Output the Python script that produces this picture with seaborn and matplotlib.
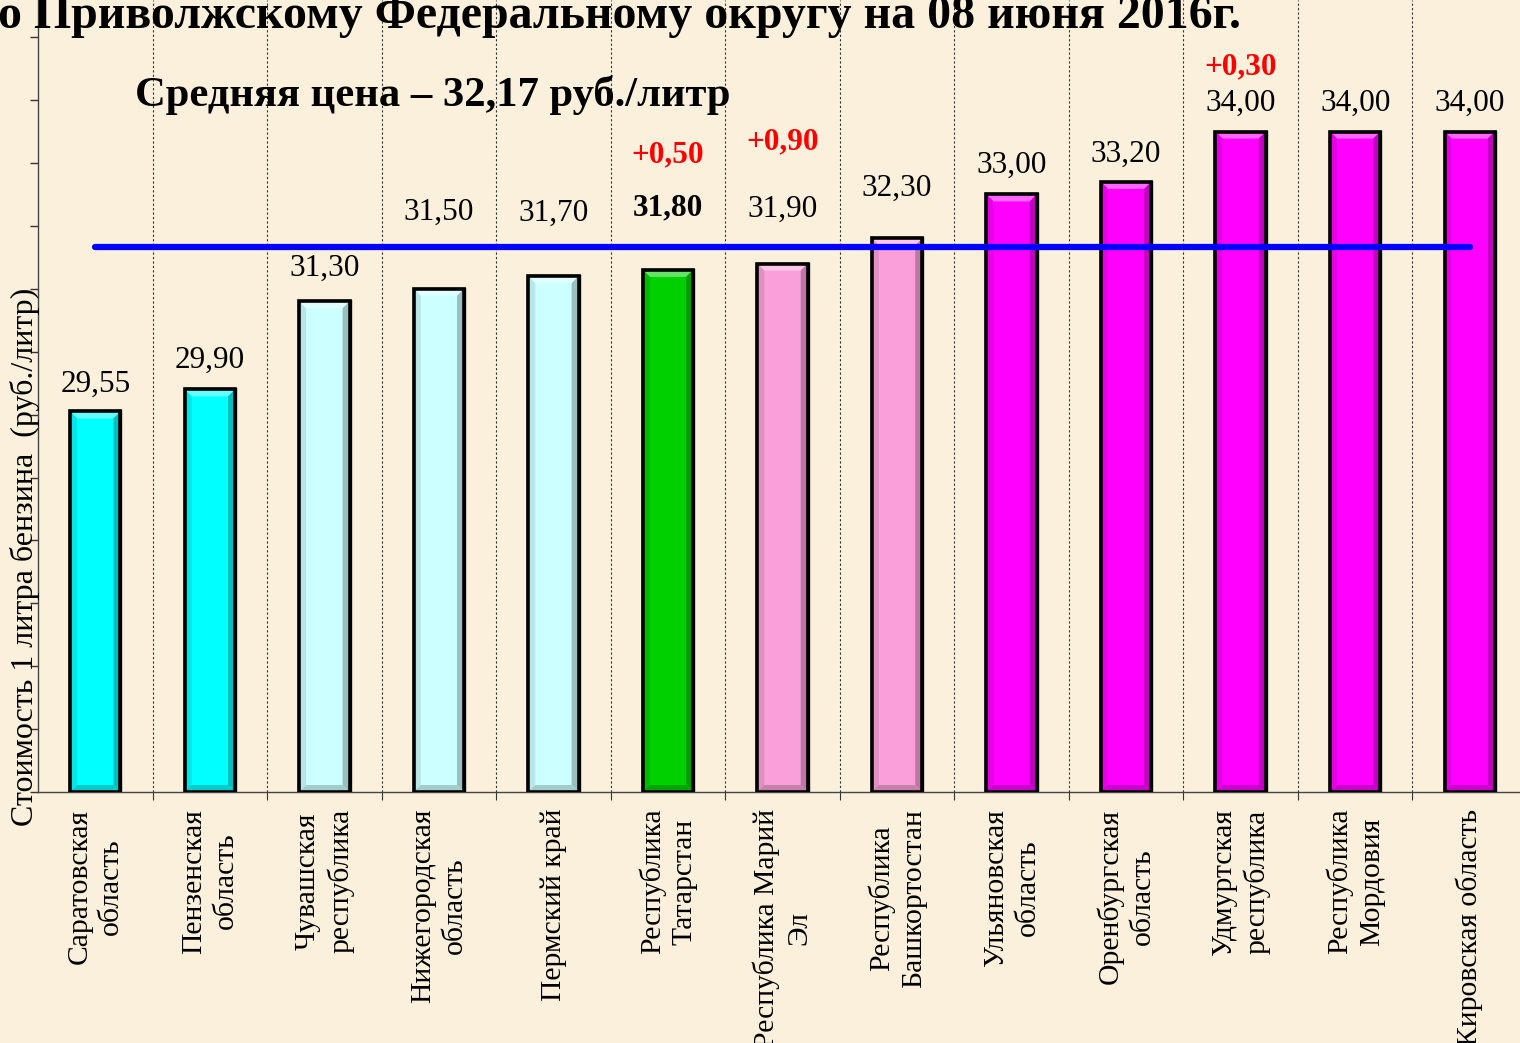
import numpy as np
import pandas as pd
import matplotlib.pyplot as plt
import matplotlib.colors as mcolors
from matplotlib.patches import Polygon
import seaborn as sns

regions = ["Саратовская\nобласть", "Пензенская\nобласть", "Чувашская\nреспублика",
           "Нижегородская\nобласть", "Пермский край", "Республика\nТатарстан",
           "Республика Марий\nЭл", "Республика\nБашкортостан", "Ульяновская\nобласть",
           "Оренбургская\nобласть", "Удмуртская\nреспублика", "Республика\nМордовия",
           "Кировская область"]
prices = [29.55, 29.90, 31.30, 31.50, 31.70, 31.80, 31.90, 32.30,
          33.00, 33.20, 34.00, 34.00, 34.00]
bar_colors = ["#00FFFF", "#00FFFF", "#CCFFFF", "#CCFFFF", "#CCFFFF", "#00D000",
              "#F9A0D8", "#F9A0D8", "#FF00FF", "#FF00FF", "#FF00FF", "#FF00FF", "#FF00FF"]
changes = {5: "+0,50", 6: "+0,90", 10: "+0,30"}
avg_price = 32.17

# label lift above bar top, pixels (labels moved clear of the average line)
value_lift = [27, 29, 33, 76, 63, 62, 54, 50, 29, 28, 28, 28, 28]
change_lift = {5: 115, 6: 122, 10: 65}

df = pd.DataFrame({"region": regions, "price": prices})

sns.set_style("white")
plt.rcParams["font.family"] = ["Liberation Serif", "DejaVu Serif"]
plt.rcParams["text.color"] = "black"
plt.rcParams["xtick.color"] = "#333333"
plt.rcParams["ytick.color"] = "#333333"

bg = "#FAF0DC"
fig = plt.figure(figsize=(15.2, 10.43), dpi=100, facecolor=bg)
ax = fig.add_axes([38 / 1520, 1 - 792 / 1043, 1489 / 1520, 792 / 1043])
ax.set_facecolor("none")

ymin = 23.5
ymax = ymin + 792 / 62.9

sns.barplot(data=df, x="region", y="price", hue="region", palette=bar_colors,
            saturation=1, legend=False, width=0.44, edgecolor="black", linewidth=2.4,
            ax=ax, zorder=3)

# bevel effect on each bar
bx, by = 7 / 114.5, 7 / 62.9
for p, c in zip(ax.patches, bar_colors):
    x0, w, top = p.get_x(), p.get_width(), p.get_height()
    x1 = x0 + w
    rgb = np.array(mcolors.to_rgb(c))
    polys = [
        ([(x0, top), (x1, top), (x1 - bx, top - by), (x0 + bx, top - by)], rgb + (1 - rgb) * 0.4),
        ([(x0, top), (x0 + bx, top - by), (x0 + bx, ymin + by), (x0, ymin)], rgb * 0.9),
        ([(x1, top), (x1 - bx, top - by), (x1 - bx, ymin + by), (x1, ymin)], rgb * 0.75),
        ([(x0, ymin), (x0 + bx, ymin + by), (x1 - bx, ymin + by), (x1, ymin)], rgb * 0.8),
    ]
    for pts, col in polys:
        ax.add_patch(Polygon(pts, closed=True, facecolor=col, edgecolor="none", zorder=3.5))
    ax.add_patch(plt.Rectangle((x0, ymin), w, top - ymin, facecolor="none",
                               edgecolor="black", linewidth=2.6, zorder=3.6))

# average line
ax.hlines(avg_price, 0, len(regions) - 1, color="#0000FF", linewidth=4.5,
          capstyle="round", zorder=5)

# value labels
for i, v in enumerate(prices):
    bold = i == 5
    ax.annotate(f"{v:.2f}".replace(".", ","), (i, v), xytext=(0, value_lift[i]),
                textcoords="offset pixels", ha="center", va="center",
                fontsize=22.5, fontweight="bold" if bold else "normal", color="black", zorder=6)
for i, t in changes.items():
    ax.annotate(t, (i, prices[i]), xytext=(0, change_lift[i]),
                textcoords="offset pixels", ha="center", va="center",
                fontsize=22.5, fontweight="bold", color="#FF0000", zorder=6)

ax.set_xlim(-0.5, len(regions) - 0.5)
ax.set_ylim(ymin, ymax)
ax.set_yticks(np.arange(ymin, ymax, 1.0))
ax.set_yticklabels([])
ax.tick_params(axis="y", direction="out", length=6, width=1, left=True)
ax.set_xticks(range(len(regions)))
ax.set_xticklabels(regions, rotation=90, fontsize=21.3, ha="center", va="top",
                   linespacing=1.3, color="black")
ax.tick_params(axis="x", which="major", length=0, pad=12)
ax.set_xticks(np.arange(0.5, len(regions) - 0.5, 1.0), minor=True)
ax.tick_params(axis="x", which="minor", direction="out", length=6, width=0.8, bottom=True)
ax.grid(which="minor", axis="x", linestyle=(0, (2, 2)), color="#333333", linewidth=0.8, zorder=1)
ax.grid(which="major", visible=False)
ax.set_xlabel("")
ax.set_ylabel("")
for s in ["top", "right"]:
    ax.spines[s].set_visible(False)
for s in ["left", "bottom"]:
    ax.spines[s].set_color("#444444")
    ax.spines[s].set_linewidth(1.0)

fig.text(25 / 1520, 1 - 557 / 1043, "Стоимость 1 литра бензина  (руб./литр)",
         rotation=90, ha="center", va="center", fontsize=23)
fig.text(135 / 1520, 1 - 106 / 1043, "Средняя цена – 32,17 руб./литр",
         ha="left", va="baseline", fontsize=30.7, fontweight="bold")
fig.text(-2 / 1520, 1 - 28 / 1043, "о Приволжскому Федеральному округу на 08 июня 2016г.",
         ha="left", va="baseline", fontsize=34.5, fontweight="bold")

fig.savefig("out.png", dpi=100, facecolor=bg)
